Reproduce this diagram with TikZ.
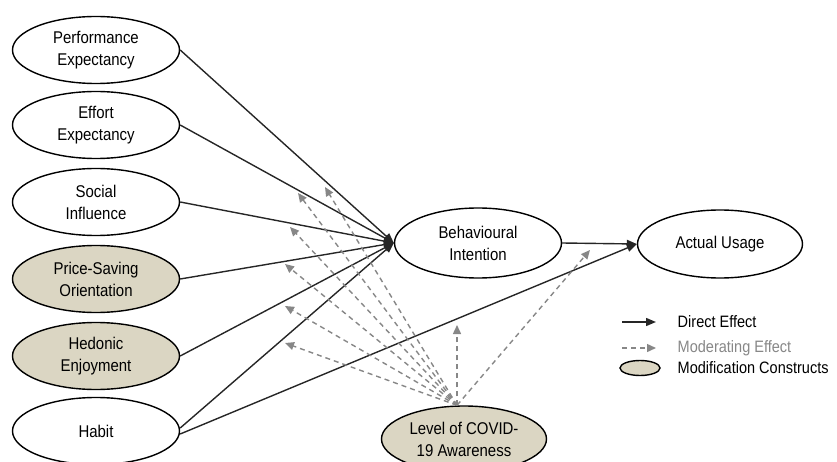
\documentclass[tikz,border=0pt]{standalone}
\usepackage{fontspec}
\setmainfont{Liberation Sans}[FakeStretch=0.88]
\usetikzlibrary{arrows.meta, shapes.geometric}
\definecolor{modfill}{RGB}{219,214,195}
\definecolor{modgray}{RGB}{135,135,135}

\begin{document}
\begin{tikzpicture}[x=1pt, y=-1pt, line width=1.4pt,
  main/.style = {draw, ellipse, minimum width=167pt, minimum height=67pt, align=center, inner sep=0pt, font=\fontsize{17}{22}\selectfont},
  modc/.style = {main, fill=modfill},
  direct/.style = {draw=black!85, -{Triangle[length=10pt, width=8pt]}},
  moder/.style = {draw=modgray, dashed, dash pattern=on 5pt off 4pt, -{Triangle[length=9pt, width=8pt]}},
  legtext/.style = {anchor=west, inner sep=0pt, font=\fontsize{16.5}{20}\selectfont}]
\useasboundingbox (0,0) rectangle (837,462);
\clip (0,0) rectangle (837,462);
% constructs
\node[main] (PE) at (96,50) {Performance\\Expectancy};
\node[main] (EE) at (96,125) {Effort\\Expectancy};
\node[main] (SI) at (96,202) {Social\\Influence};
\node[modc] (PS) at (96,279) {Price-Saving\\Orientation};
\node[modc] (HE) at (96,356) {Hedonic\\Enjoyment};
\node[main] (HA) at (96,431) {Habit};
\node[main, minimum height=70pt] (BI) at (478,243) {Behavioural\\Intention};
\node[main, minimum width=165pt, minimum height=68pt] (AU) at (720,244) {Actual Usage};
\node[modc, minimum width=165pt, minimum height=66pt] (CA) at (464,439) {Level of COVID-\\19 Awareness};
% direct effects
\draw[direct] (PE.east) -- (BI.west);
\draw[direct] (EE.east) -- (BI.west);
\draw[direct] (SI.east) -- (BI.west);
\draw[direct] (PS.east) -- (BI.west);
\draw[direct] (HE.east) -- (BI.west);
\draw[direct] ([yshift=3pt]HA.east) -- (BI.west);
\draw[direct] ([yshift=-3pt]HA.east) -- (AU.west);
\draw[direct] (BI.east) -- (AU.west);
% moderating effects
\coordinate (src) at ([xshift=-7pt]CA.north);
\coordinate (mPE) at (325,187);
\coordinate (mEE) at (298,193);
\coordinate (mSI) at (290,227);
\coordinate (mPS) at (285,264);
\coordinate (mHE) at (285,306);
\coordinate (mHB) at (285,343);
\coordinate (mHA) at (457,325);
\coordinate (mBA) at (590,250);
\foreach \t in {mPE,mEE,mSI,mPS,mHE,mHB,mBA}
  \draw[moder] (src) -- (\t);
\draw[moder] (src) -- (src |- mHA);
% legend
\coordinate (l1a) at (622,322); \coordinate (l1b) at (656,322);
\coordinate (l2a) at (622,348); \coordinate (l2b) at (656,348);
\draw[direct] (l1a) -- (l1b);
\draw[moder] (l2a) -- (l2b);
\node[draw, ellipse, fill=modfill, minimum width=40pt, minimum height=15pt, inner sep=0pt] (lmod) at (640,368) {};
\node[legtext] (tdir) at (677,322) {Direct Effect};
\node[legtext, text=modgray] (tmod) at (677,348) {Moderating Effect};
\node[legtext] (tcon) at (677,368) {Modification Constructs};
\end{tikzpicture}
\end{document}
